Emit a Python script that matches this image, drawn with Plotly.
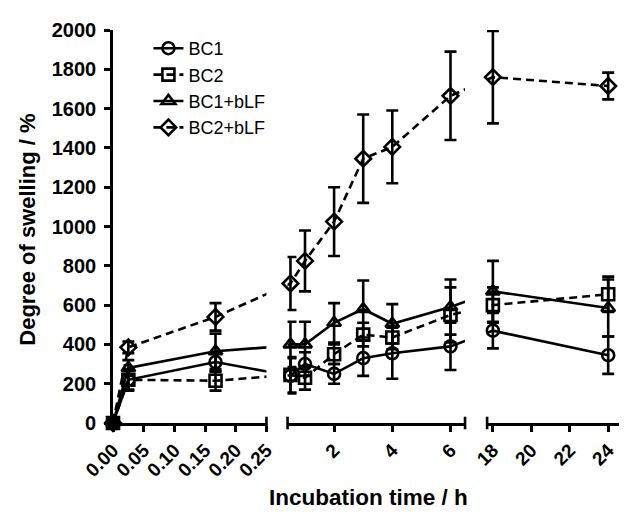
import plotly.graph_objects as go

# ---- data ----
time_h = [0, 0.025, 0.167, 0.5, 1, 2, 3, 4, 6, 18, 24]

bc1 = [0, 220, 310, 240, 300, 250, 330, 355, 390, 470, 345]
bc1_err = [0, 50, 50, 90, 60, 50, 90, 130, 120, 90, 95]

bc2 = [0, 220, 215, 245, 230, 350, 450, 435, 550, 600, 655]
bc2_err = [0, 55, 50, 90, 60, 50, 60, 60, 140, 90, 90]

bc1_blf = [0, 280, 365, 400, 400, 510, 580, 505, 590, 670, 585]
bc1_blf_err = [0, 40, 90, 115, 115, 100, 145, 100, 140, 155, 145]

bc2_blf = [0, 385, 540, 710, 825, 1025, 1345, 1405, 1665, 1760, 1715]
bc2_blf_err = [0, 30, 70, 135, 155, 175, 225, 185, 225, 235, 68]

series_names = ["BC1", "BC2", "BC1+bLF", "BC2+bLF"]
y_ticks = list(range(0, 2001, 200))
seg_ticks = [[0, 0.05, 0.10, 0.15, 0.20, 0.25], [2, 4, 6], [18, 20, 22, 24]]
seg_ticktext = [["0.00", "0.05", "0.10", "0.15", "0.20", "0.25"],
                ["2", "4", "6"], ["18", "20", "22", "24"]]

# ---- broken x axis: piecewise-linear layout coordinate ----
SEGMENTS = [(0.0, 0.25), (0.4, 6.5), (17.7, 24.56)]
PLOT_W = 516.0  # plot width in px (layout units == px)


def to_u(t):
    if t <= 0.3:
        return t * 626.0
    if t <= 12:
        return 178.0 + (t - 0.4) * 29.67
    return 381.5 + (t - 17.7) * 19.6


styles = {
    "BC1": dict(symbol="circle-open", dash="solid"),
    "BC2": dict(symbol="square-open", dash="8px,5px"),
    "BC1+bLF": dict(symbol="triangle-up-open", dash="solid"),
    "BC2+bLF": dict(symbol="diamond-open", dash="8px,5px"),
}
values = {"BC1": (bc1, bc1_err), "BC2": (bc2, bc2_err),
          "BC1+bLF": (bc1_blf, bc1_blf_err), "BC2+bLF": (bc2_blf, bc2_blf_err)}

u_vals = [to_u(t) for t in time_h]
axis_ids = ["x", "x2", "x3"]

fig = go.Figure()
for name in series_names:
    vals, errs = values[name]
    st = styles[name]
    for k, ax in enumerate(axis_ids):
        fig.add_trace(go.Scatter(
            x=u_vals, y=vals, name=name, legendgroup=name,
            showlegend=(k == 0), xaxis=ax, yaxis="y",
            mode="lines+markers", cliponaxis=False,
            line=dict(color="black", width=2.6, dash=st["dash"]),
            marker=dict(symbol=st["symbol"], size=12, color="black",
                        line=dict(color="black", width=2.6)),
            error_y=dict(type="data", array=errs, visible=True,
                         color="black", thickness=2.6, width=6),
        ))

font_family = "Liberation Sans, Arial, sans-serif"
tickfont = dict(family=font_family, size=19, color="black", weight="bold")

layout = dict(
    width=627, height=521,
    margin=dict(l=105, r=6, t=22, b=106),
    plot_bgcolor="white", paper_bgcolor="white",
    showlegend=True,
    legend=dict(x=0.07, y=1.0, xanchor="left", yanchor="top",
                font=dict(family=font_family, size=18, color="black"),
                bgcolor="rgba(0,0,0,0)", tracegroupgap=0),
    yaxis=dict(range=[0, 2000], tickvals=y_ticks, showline=True,
               linecolor="black", linewidth=2.6, ticks="outside",
               ticklen=6, tickwidth=2.6, tickcolor="black",
               ticklabelstandoff=4,
               tickfont=dict(family=font_family, size=20, color="black",
                             weight="bold"),
               showgrid=False, zeroline=False, anchor="x", domain=[0, 1]),
)
for k, ax in enumerate(axis_ids):
    a, b = SEGMENTS[k]
    key = "xaxis" if k == 0 else f"xaxis{k + 1}"
    layout[key] = dict(
        range=[to_u(a), to_u(b)],
        domain=[max(0.0, to_u(a) / PLOT_W), min(1.0, to_u(b) / PLOT_W)],
        tickvals=[to_u(t) for t in seg_ticks[k]],
        ticktext=seg_ticktext[k], tickangle=-45,
        showline=True, linecolor="black", linewidth=2.6,
        ticks="outside", ticklen=6, tickwidth=2.6, tickcolor="black",
        tickfont=tickfont, showgrid=False, zeroline=False, anchor="y",
    )
fig.update_layout(**layout)

# end caps of the broken axis segments
caps = [to_u(0.25), to_u(0.4), to_u(6.5), to_u(17.7)]
for c in caps:
    fig.add_shape(type="line", xref="paper", yref="paper",
                  x0=c / PLOT_W, x1=c / PLOT_W, y0=-0.016, y1=0.016,
                  line=dict(color="black", width=2.6))

fig.add_annotation(text="<b>Degree of swelling / %</b>", xref="paper",
                   yref="paper", x=(17 - 105) / PLOT_W, y=(415 - 222) / 393,
                   textangle=-90,
                   showarrow=False, xanchor="center", yanchor="middle",
                   font=dict(family=font_family, size=22, color="black"))
fig.add_annotation(text="<b>Incubation time / h</b>", xref="paper",
                   yref="paper", x=(366 - 105) / PLOT_W, y=(415 - 489) / 393,
                   showarrow=False, xanchor="center", yanchor="middle",
                   font=dict(family=font_family, size=22.5, color="black"))

fig.write_html("out.html")
